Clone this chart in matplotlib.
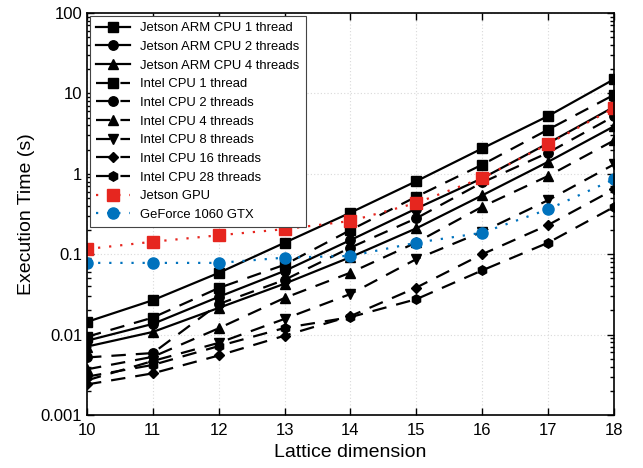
import matplotlib
matplotlib.use("Agg")
import matplotlib.pyplot as plt
from matplotlib.ticker import LogLocator, FixedLocator, NullFormatter

plt.rcParams['font.family'] = ['Liberation Sans', 'DejaVu Sans']

lattice = [10, 11, 12, 13, 14, 15, 16, 17, 18]

jetson_1 = [0.0144, 0.0268, 0.0586, 0.139, 0.329, 0.81, 2.07, 5.23, 15.0]
jetson_2 = [0.0084, 0.0136, 0.0295, 0.062, 0.15, 0.37, 0.88, 2.4, 6.8]
jetson_4 = [0.0071, 0.0108, 0.0215, 0.043, 0.092, 0.21, 0.54, 1.41, 3.9]

intel_1 = [0.0094, 0.0163, 0.038, 0.074, 0.20, 0.52, 1.3, 3.55, 9.6]
intel_2 = [0.0052, 0.0059, 0.024, 0.048, 0.121, 0.28, 0.78, 1.83, 5.2]
intel_4 = [0.0037, 0.0053, 0.012, 0.0286, 0.059, 0.14, 0.39, 0.94, 2.6]
intel_8 = [0.0027, 0.0047, 0.0079, 0.0157, 0.032, 0.087, 0.19, 0.47, 1.31]
intel_16 = [0.0024, 0.0033, 0.0055, 0.0097, 0.017, 0.0385, 0.1, 0.231, 0.64]
intel_28 = [0.0030, 0.0042, 0.0072, 0.0121, 0.0165, 0.0276, 0.063, 0.139, 0.387]

jetson_gpu = [0.116, 0.143, 0.172, 0.205, 0.259, 0.434, 0.887, 2.35, 6.57]
geforce = [0.078, 0.078, 0.078, 0.0907, 0.0953, 0.139, 0.185, 0.362, 0.855]

labels = ["Jetson ARM CPU 1 thread", "Jetson ARM CPU 2 threads", "Jetson ARM CPU 4 threads",
          "Intel CPU 1 thread", "Intel CPU 2 threads", "Intel CPU 4 threads",
          "Intel CPU 8 threads", "Intel CPU 16 threads", "Intel CPU 28 threads",
          "Jetson GPU", "GeForce 1060 GTX"]

fig = plt.figure(figsize=(6.43, 4.68), dpi=100)
ax = fig.add_axes([0.1353, 0.1132, 0.8196, 0.859])

dash = (0, (6.5, 4.5))
dot = (0, (1, 4))
lw = 1.6
ms = 6.8

ax.plot(lattice, jetson_1, color='k', ls='-', lw=lw, marker='s', ms=ms, label=labels[0])
ax.plot(lattice, jetson_2, color='k', ls='-', lw=lw, marker='o', ms=ms, label=labels[1])
ax.plot(lattice, jetson_4, color='k', ls='-', lw=lw, marker='^', ms=ms, label=labels[2])
ax.plot(lattice, intel_1, color='k', ls=dash, lw=lw, marker='s', ms=ms, label=labels[3])
ax.plot(lattice, intel_2, color='k', ls=dash, lw=lw, marker='o', ms=ms, label=labels[4])
ax.plot(lattice, intel_4, color='k', ls=dash, lw=lw, marker='^', ms=ms, label=labels[5])
ax.plot(lattice, intel_8, color='k', ls=dash, lw=lw, marker='v', ms=ms, label=labels[6])
ax.plot(lattice, intel_16, color='k', ls=dash, lw=lw, marker='D', ms=5.5, label=labels[7])
ax.plot(lattice, intel_28, color='k', ls=dash, lw=lw, marker='h', ms=ms, label=labels[8])
ax.plot(lattice, jetson_gpu, color='#e6261f', ls=dot, lw=lw, marker='s', ms=8, label=labels[9])
ax.plot(lattice, geforce, color='#0072bd', ls=dot, lw=lw, marker='o', ms=8, label=labels[10])

ax.set_yscale('log')
ax.set_ylim(0.001, 100)
ax.set_xlim(10, 18)
ax.set_xticks(lattice)
ax.set_xticklabels([str(v) for v in lattice])
ax.yaxis.set_major_locator(FixedLocator([0.001, 0.01, 0.1, 1, 10, 100]))
ax.set_yticklabels(['0.001', '0.01', '0.1', '1', '10', '100'])
ax.yaxis.set_minor_locator(LogLocator(base=10, subs=range(2, 10)))
ax.yaxis.set_minor_formatter(NullFormatter())

ax.tick_params(which='both', direction='in', top=True, right=True, labelsize=12, width=1)
ax.tick_params(which='major', length=5)
ax.tick_params(which='minor', length=3)
ax.tick_params(axis='x', pad=6)
for s in ax.spines.values():
    s.set_linewidth(1.2)

ax.grid(True, which='major', color='#d9d9d9', ls=(0, (1, 2)), lw=0.8)
ax.set_axisbelow(True)

ax.set_xlabel('Lattice dimension', fontsize=14)
ax.set_ylabel('Execution Time (s)', fontsize=14)

leg = ax.legend(loc='upper left', fontsize=9.4, frameon=True, fancybox=False,
                edgecolor='#444444', framealpha=1, labelspacing=0.5, handlelength=2.6,
                handletextpad=0.75, borderpad=0.5, borderaxespad=0.2)
leg.get_frame().set_linewidth(0.8)

fig.savefig('out.png', dpi=100)
